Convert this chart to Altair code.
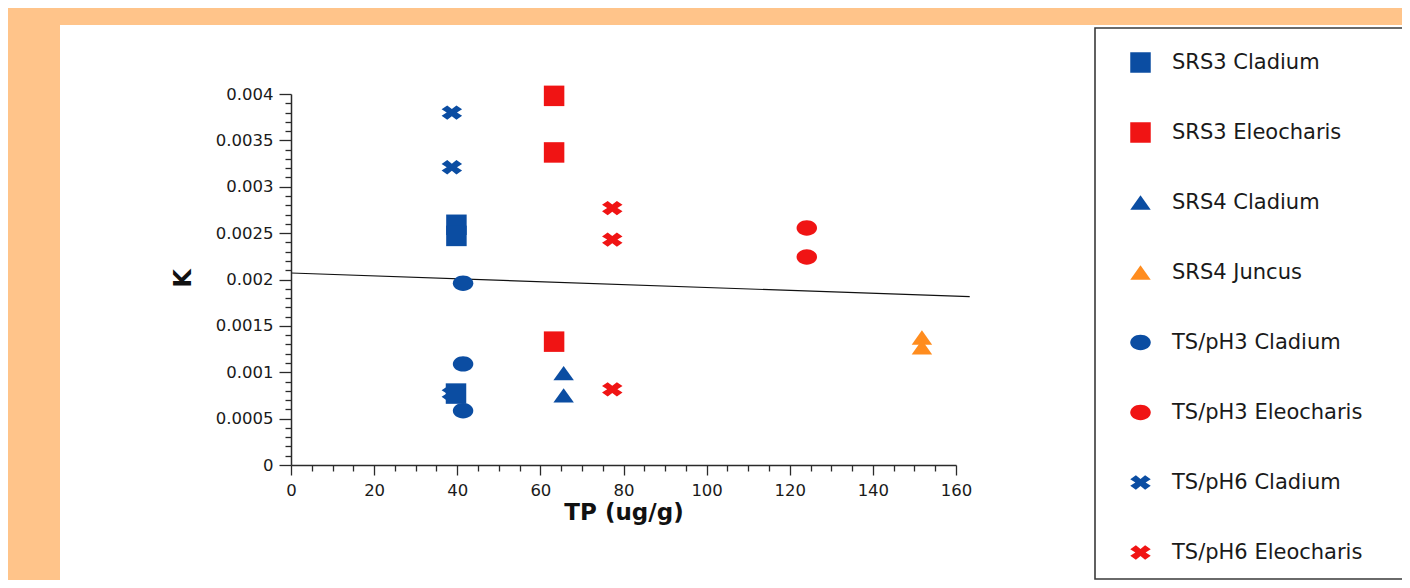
import altair as alt
import pandas as pd

# ---------------- data ----------------
series_names = ["SRS3 Cladium", "SRS3 Eleocharis", "SRS4 Cladium", "SRS4 Juncus",
                "TS/pH3 Cladium", "TS/pH3 Eleocharis", "TS/pH6 Cladium", "TS/pH6 Eleocharis"]

srs3_cladium_tp = [39.8, 39.8, 39.7]
srs3_cladium_k = [0.00259, 0.00247, 0.00077]
srs3_eleocharis_tp = [63.3, 63.3, 63.3]
srs3_eleocharis_k = [0.00398, 0.00337, 0.00133]
srs4_cladium_tp = [65.6, 65.6]
srs4_cladium_k = [0.00099, 0.00075]
srs4_juncus_tp = [151.8, 151.8]
srs4_juncus_k = [0.001375, 0.00127]
tsph3_cladium_tp = [41.4, 41.4, 41.4]
tsph3_cladium_k = [0.00196, 0.00109, 0.000585]
tsph3_eleocharis_tp = [124.1, 124.1]
tsph3_eleocharis_k = [0.002555, 0.002243]
tsph6_cladium_tp = [38.7, 38.7, 38.7]
tsph6_cladium_k = [0.0038, 0.00321, 0.00077]
tsph6_eleocharis_tp = [77.3, 77.3, 77.3]
tsph6_eleocharis_k = [0.00277, 0.00243, 0.000816]

trend_tp = [0, 163.3]
trend_k = [0.00207, 0.001815]

x_major_ticks = [0, 20, 40, 60, 80, 100, 120, 140, 160]
y_major_ticks = [0, 0.0005, 0.001, 0.0015, 0.002, 0.0025, 0.003, 0.0035, 0.004]

# ---------------- styles ----------------
BLUE = "#0B4DA2"
RED = "#F01414"
ORANGE = "#FF8C1E"
series_colors = [BLUE, RED, BLUE, ORANGE, BLUE, RED, BLUE, RED]
TRI = "M0,-0.7L1,0.7L-1,0.7Z"
ELL = "M-1,0A1,0.75,0,1,1,1,0A1,0.75,0,1,1,-1,0Z"
XSHAPE = ("M-1,-0.315L-0.45,-0.7L0,-0.35L0.45,-0.7L1,-0.315L0.5,0L1,0.315L0.45,0.7"
          "L0,0.35L-0.45,0.7L-1,0.315L-0.5,0Z")
series_shapes = ["square", "square", TRI, TRI, ELL, ELL, XSHAPE, XSHAPE]
series_sizes = [420, 420, 310, 310, 320, 320, 300, 300]

FONT = "DejaVu Sans"

# draw order: X markers of TS/pH6 Cladium first (they sit behind squares)
ordered = [
    ("TS/pH6 Cladium", tsph6_cladium_tp, tsph6_cladium_k),
    ("SRS3 Cladium", srs3_cladium_tp, srs3_cladium_k),
    ("SRS3 Eleocharis", srs3_eleocharis_tp, srs3_eleocharis_k),
    ("SRS4 Cladium", srs4_cladium_tp, srs4_cladium_k),
    ("SRS4 Juncus", srs4_juncus_tp, srs4_juncus_k),
    ("TS/pH3 Cladium", tsph3_cladium_tp, tsph3_cladium_k),
    ("TS/pH3 Eleocharis", tsph3_eleocharis_tp, tsph3_eleocharis_k),
    ("TS/pH6 Eleocharis", tsph6_eleocharis_tp, tsph6_eleocharis_k),
]
rows = []
for name, xs, ys in ordered:
    for xv, yv in zip(xs, ys):
        rows.append({"series": name, "tp": xv, "k": yv})
points_df = pd.DataFrame(rows)
trend_df = pd.DataFrame({"tp": trend_tp, "k": trend_k})

x_vals = [float(v) for v in range(0, 161, 5)]
y_vals = [round(i * 0.0001, 4) for i in range(41)]

x_major_test = "datum.value % 20 === 0"
y_major_test = "abs(datum.value * 2000 - round(datum.value * 2000)) < 0.001"

x_axis = alt.Axis(
    title="TP (ug/g)", values=x_vals, grid=False, zindex=1,
    labelExpr=f"({x_major_test}) ? format(datum.value, 'd') : ''",
    labelFlush=False, labelOverlap=False,
    tickSize={"condition": {"test": x_major_test, "value": 10}, "value": 6},
    labelPadding=7, labelFont=FONT, labelFontSize=16.5, labelColor="#1a1a1a",
    domainColor="#2a2a2a", domainWidth=1.5, tickColor="#2a2a2a", tickWidth=1.3,
    titleFont=FONT, titleFontSize=23, titleFontWeight="bold", titleColor="#111111",
    titleBaseline="alphabetic", titleY=54,
)
y_axis = alt.Axis(
    title="K", values=y_vals, grid=False, zindex=1,
    labelExpr=f"({y_major_test}) ? format(datum.value, '.4~f') : ''",
    labelFlush=False, labelOverlap=False,
    tickSize={"condition": {"test": y_major_test, "value": 12}, "value": 6},
    labelPadding=6, labelFont=FONT, labelFontSize=16.5, labelColor="#1a1a1a",
    domainColor="#2a2a2a", domainWidth=1.5, tickColor="#2a2a2a", tickWidth=1.3,
    titleFont=FONT, titleFontSize=24, titleFontWeight="bold", titleColor="#111111",
    titleBaseline="alphabetic", titleAngle=-90, titleX=-101, titleY=184,
)

x_enc = alt.X("tp:Q", scale=alt.Scale(domain=[0, 160], nice=False, zero=True), axis=x_axis)
y_enc = alt.Y("k:Q", scale=alt.Scale(domain=[0, 0.004], nice=False, zero=True), axis=y_axis)

leg = alt.Legend(
    title=None, orient="none", legendX=839, legendY=-42, padding=0,
    labelFont=FONT, labelFontSize=21, labelColor="#1a1a1a", labelOffset=21,
    labelLimit=400, rowPadding=48, symbolStrokeWidth=0, symbolOpacity=1,
)

one = alt.Data(values=[{}])

panel = alt.Chart(one).mark_rect(fill="white").encode(
    x=alt.value(-231), x2=alt.value(1119), y=alt.value(-69), y2=alt.value(494)
)
legend_box = alt.Chart(one).mark_rect(fill="white", stroke="#3a3a3a", strokeWidth=1.6).encode(
    x=alt.value(804), x2=alt.value(1115), y=alt.value(-66), y2=alt.value(485)
)

trend = alt.Chart(trend_df).mark_line(color="#111111", strokeWidth=1.2).encode(
    x=x_enc, y=y_enc
)

points = alt.Chart(points_df).mark_point(filled=True, opacity=1, strokeWidth=0).encode(
    x=x_enc, y=y_enc,
    color=alt.Color("series:N", scale=alt.Scale(domain=series_names, range=series_colors), legend=leg),
    shape=alt.Shape("series:N", scale=alt.Scale(domain=series_names, range=series_shapes), legend=leg),
    size=alt.Size("series:N", scale=alt.Scale(domain=series_names, range=series_sizes), legend=leg),
)

chart = alt.layer(panel, legend_box, trend, points).properties(
    width=665, height=371,
    autosize=alt.AutoSizeParams(type="none"),
    padding={"left": 283, "top": 86, "right": 446, "bottom": 115},
).configure(background="#FFC48A").configure_view(stroke=None)

chart.save("out.html", embed_options={"renderer": "svg", "actions": False})
